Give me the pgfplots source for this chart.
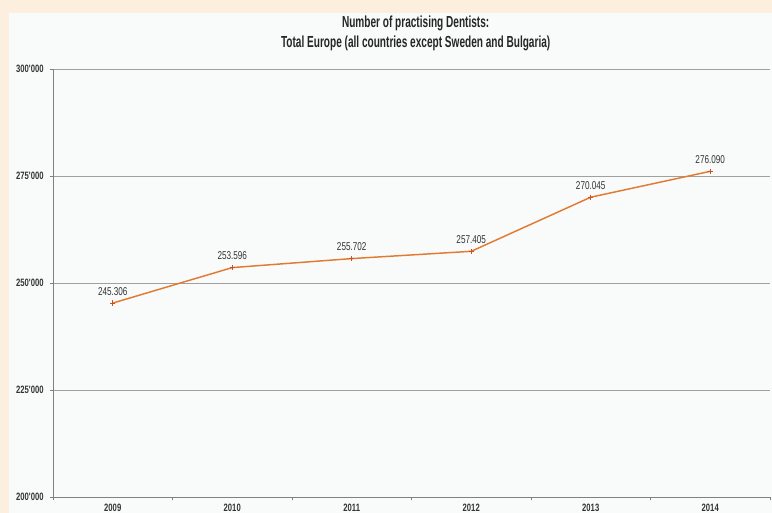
\documentclass[border=0pt]{standalone}
\usepackage{pgfplots}
\pgfplotsset{compat=1.18}
\usepackage{fontspec}
\setmainfont{Liberation Sans}[FakeStretch=0.63]
\newfontfamily\tickfont{Liberation Sans}[FakeStretch=0.72]
\definecolor{peach}{RGB}{253,239,222}
\definecolor{panel}{RGB}{249,251,251}
\definecolor{gridgray}{RGB}{160,160,160}
\definecolor{lineorange}{RGB}{226,122,50}
\definecolor{markred}{RGB}{205,80,35}
\begin{document}
\begin{tikzpicture}
\useasboundingbox (-39.75pt,-12pt) rectangle (539.25pt,372.75pt);
\fill[peach] (-39.75pt,-12pt) rectangle (539.25pt,372.75pt);
\fill[panel] (-33pt,-12pt) rectangle (539.25pt,363pt);
\node[align=center, font=\bfseries\fontsize{12}{15}\selectfont, text=black!85] at (272pt,347.5pt)
  {Number of practising Dentists:\\Total Europe (all countries except Sweden and Bulgaria)};
\begin{axis}[
  at={(0pt,0pt)}, anchor=south west,
  scale only axis, width=537.75pt, height=321pt,
  xmin=-0.5, xmax=5.5, ymin=200000, ymax=300000,
  scaled y ticks=false,
  axis x line*=bottom, axis y line*=left,
  axis line style={gridgray!80!black, line width=0.6pt},
  xtick={0,1,2,3,4,5},
  xticklabels={2009,2010,2011,2012,2013,2014},
  minor xtick={-0.5,0.5,1.5,2.5,3.5,4.5,5.5},
  ytick={200000,225000,250000,275000,300000},
  yticklabels={200'000,225'000,250'000,275'000,300'000},
  ymajorgrids, grid style={gridgray, line width=0.6pt},
  tick align=outside,
  major tick length=2.5pt, minor tick length=2.5pt,
  x tick style={draw=none}, minor x tick style={draw=gridgray!80!black},
  y tick style={draw=gridgray!80!black},
  ticklabel style={font=\tickfont\bfseries\fontsize{8}{9}\selectfont, text=black!80},
  yticklabel style={xshift=-1pt},
  xticklabel style={yshift=1pt},
  clip=false,
  nodes near coords,
  point meta=explicit symbolic,
  every node near coord/.append style={font=\tickfont\fontsize{8.5}{10}\selectfont, text=black!80, yshift=2pt},
]
\addplot[color=lineorange, line width=1.1pt, mark=+, mark size=2pt, mark options={markred, line width=0.8pt}]
  coordinates {
  (0,245306) [245.306]
  (1,253596) [253.596]
  (2,255702) [255.702]
  (3,257405) [257.405]
  (4,270045) [270.045]
  (5,276090) [276.090]
  };
\end{axis}
\end{tikzpicture}
\end{document}
